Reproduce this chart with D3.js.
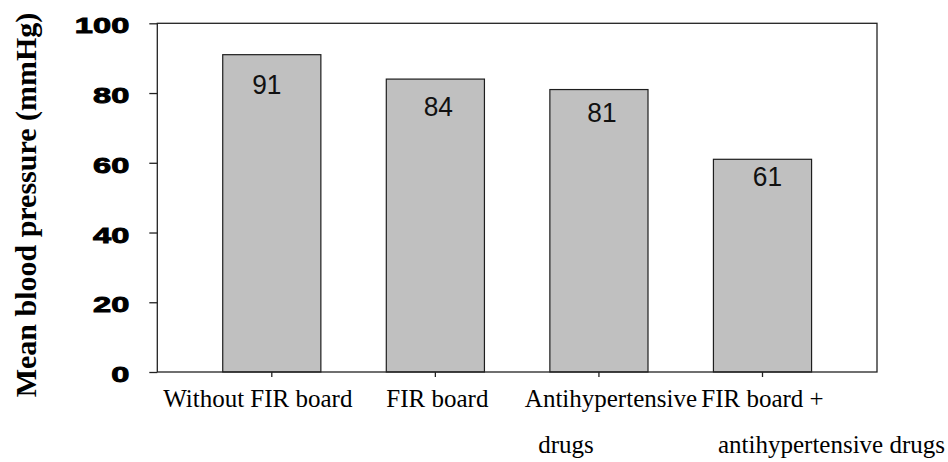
<!DOCTYPE html>
<html>
<head>
<meta charset="utf-8">
<script src="https://cdn.jsdelivr.net/npm/d3@7"></script>
<style>
  body { margin: 0; background: #fff; }
</style>
</head>
<body>
<svg id="chart"></svg>
<script>
// chart values
const categories = ["Without FIR board", "FIR board", "Antihypertensive drugs", "FIR board + antihypertensive drugs"];
const values = [91, 84, 81, 61];
const yTicks = [0, 20, 40, 60, 80, 100];
const labelLines = [["Without FIR board"], ["FIR board"], ["Antihypertensive", "drugs"], ["FIR board +", "antihypertensive drugs"]];
const yTitle = "Mean blood pressure (mmHg)";

// layout nudges
const lineShift = [[-14], [2], [12, -33], [0, 69]];
const valueShift = [[-5, 39], [3, 37], [3, 32], [5, 27]];

const width = 948, height = 462;
const plotLeft = 157.3, plotRight = 877, plotTop = 23.3, plotBottom = 372;

const svg = d3.select("#chart")
    .attr("width", width)
    .attr("height", height);

const x = d3.scaleBand()
    .domain(categories)
    .range([plotLeft, plotRight])
    .paddingInner(0.4)
    .paddingOuter(0.4);

const y = d3.scaleLinear()
    .domain([0, 100])
    .range([plotBottom, plotTop]);

// bars
svg.selectAll("rect.bar")
    .data(values)
    .enter()
    .append("rect")
    .attr("class", "bar")
    .attr("x", (d, i) => x(categories[i]))
    .attr("y", d => y(d))
    .attr("width", x.bandwidth())
    .attr("height", d => y(0) - y(d))
    .attr("fill", "#c0c0c0")
    .attr("stroke", "#1e1e1e")
    .attr("stroke-width", 1.2);

// value labels
svg.selectAll("text.val")
    .data(values)
    .enter()
    .append("text")
    .attr("class", "val")
    .attr("x", (d, i) => x(categories[i]) + x.bandwidth() / 2 + valueShift[i][0])
    .attr("y", (d, i) => y(d) + valueShift[i][1])
    .attr("text-anchor", "middle")
    .attr("font-family", "Liberation Sans, Arial, sans-serif")
    .attr("font-size", 28)
    .attr("transform", (d, i) => {
        const cx = x(categories[i]) + x.bandwidth() / 2 + valueShift[i][0];
        return `translate(${cx},0) scale(0.94,1) translate(${-cx},0)`;
    })
    .attr("fill", "#111")
    .text(d => d);

// frame
svg.append("rect")
    .attr("x", plotLeft)
    .attr("y", plotTop)
    .attr("width", plotRight - plotLeft)
    .attr("height", plotBottom - plotTop)
    .attr("fill", "none")
    .attr("stroke", "#222")
    .attr("stroke-width", 1.3);

// y axis
const yAxis = svg.append("g")
    .attr("transform", `translate(${plotLeft},0)`)
    .call(d3.axisLeft(y).tickValues(yTicks).tickSize(8).tickSizeOuter(0));
yAxis.select(".domain").remove();
yAxis.selectAll(".tick line").attr("stroke", "#222").attr("stroke-width", 1.3);
yAxis.selectAll(".tick text")
    .attr("x", 0)
    .attr("dy", 9.5)
    .attr("transform", "translate(-28,0) scale(1.45,1)")
    .attr("text-anchor", "end")
    .attr("font-family", "Liberation Sans, Arial, sans-serif")
    .attr("font-weight", "bold")
    .attr("font-size", 22.5)
    .attr("fill", "#000")
    .attr("stroke", "#000")
    .attr("stroke-width", 0.9);

// x axis
const xAxis = svg.append("g")
    .attr("transform", `translate(0,${plotBottom})`)
    .call(d3.axisBottom(x).tickSize(5).tickSizeOuter(0).tickFormat(""));
xAxis.select(".domain").remove();
xAxis.selectAll(".tick line").attr("stroke", "#222").attr("stroke-width", 1.3);

// category labels
categories.forEach((c, i) => {
    labelLines[i].forEach((line, j) => {
        svg.append("text")
            .attr("x", x(c) + x.bandwidth() / 2 + lineShift[i][j])
            .attr("y", 407 + j * 46)
            .attr("text-anchor", "middle")
            .attr("font-family", "Liberation Serif, Times New Roman, serif")
            .attr("font-size", 25)
            .attr("fill", "#000")
            .text(line);
    });
});

// y title
svg.append("text")
    .attr("transform", "translate(36,205) rotate(-90)")
    .attr("text-anchor", "middle")
    .attr("font-family", "Liberation Serif, Times New Roman, serif")
    .attr("font-weight", "bold")
    .attr("font-size", 30)
    .attr("fill", "#000")
    .text(yTitle);
</script>
</body>
</html>
